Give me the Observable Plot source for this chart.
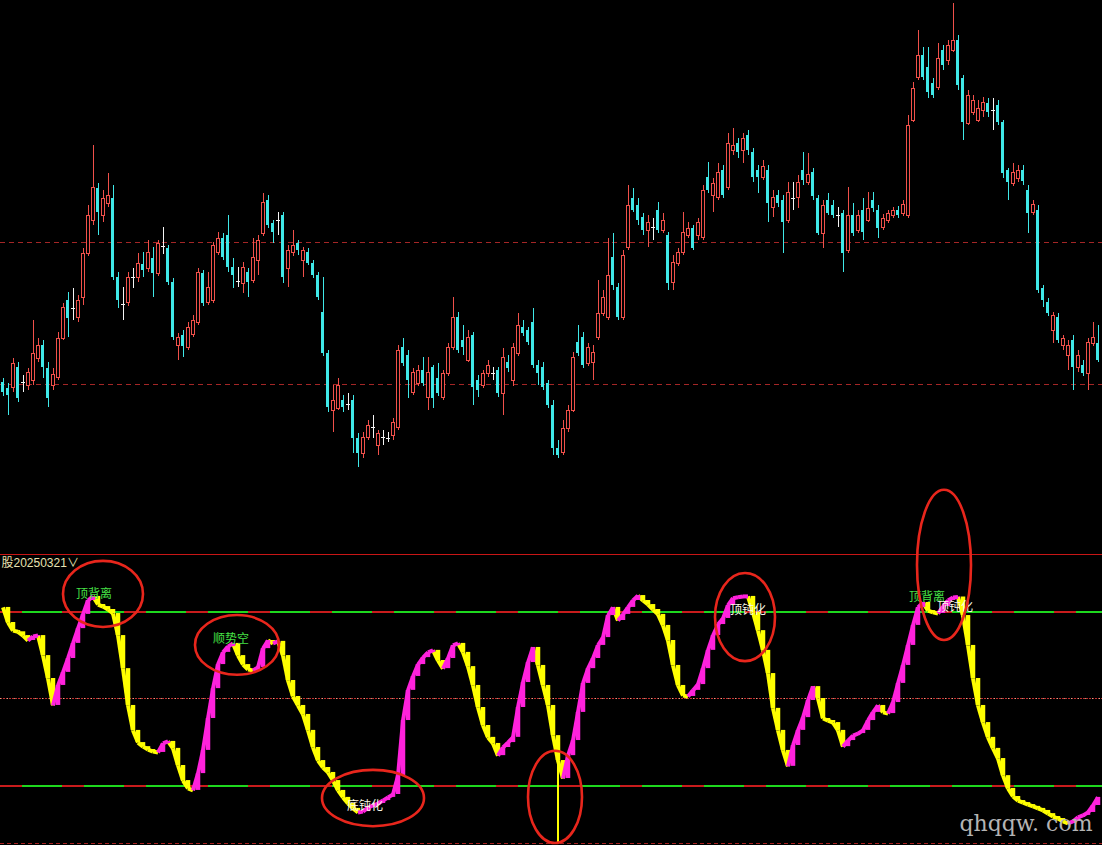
<!DOCTYPE html>
<html><head><meta charset="utf-8">
<script src="https://cdn.jsdelivr.net/npm/d3@7"></script>
<script src="https://cdn.jsdelivr.net/npm/@observablehq/plot@0.6"></script>
<style>
html,body{margin:0;padding:0;background:#000;}
#chart{width:1102px;height:845px;background:#000;overflow:hidden;position:relative;}
#sep{height:1px;background:#c81616;}
#chart svg{display:block;}
</style></head><body><div id="chart"></div>
<script>
// ---- price candles (index units, one per bar) ----
const opens = [618,612,613,633,617,615,620,642,655,632, 615,623,662,700,691,683,703,747,780,812,
785,797,802,723,697,698,722,723,736,732, 742,727,753,752,718,655,665,653,666,678,
727,698,700,748,762,765,733,720,717,728, 720,740,767,800,777,779,785,732,748,757,
740,748,737,725,688,647,590,592,600,595, 600,562,547,563,572,555,562,561,565,573,
653,645,608,617,630,603,633,622,603,627, 653,683,660,640,665,620,615,627,628,630,
607,638,620,647,673,670,678,635,633,617, 595,552,548,572,590,658,663,637,638,663,
687,683,743,713,683,753,802,795,783,770, 772,790,770,765,718,737,748,765,772,765,
763,823,805,803,830,813,850,857,850,865, 848,830,823,830,793,805,800,780,801,803,
830,818,828,802,767,800,795,786,787,750, 785,770,790,780,800,790,773,780,785,790,
787,785,880,923,945,933,917,913,950,940, 950,960,922,877,888,880,890,897,889,895,
878,830,817,822,830,810,788,790,712,698, 670,683,655,645,660,633,635,627,657,657];
const closes = [608,605,637,602,618,628,647,655,633,602, 626,662,693,682,692,700,747,785,813,788,
802,805,723,700,696,723,723,737,730,748, 727,757,754,718,663,663,654,673,680,728,
697,713,755,762,743,733,725,719,733,718, 743,760,798,775,768,780,723,750,755,750,
750,737,725,703,647,593,600,615,593,596, 562,547,563,575,573,567,563,562,578,650,
637,620,628,630,617,628,602,607,627,653, 683,650,653,663,613,610,627,635,627,607,
643,632,653,675,667,658,635,627,613,595, 552,545,572,590,643,647,635,653,648,687,
703,725,715,683,745,795,790,780,770,778, 773,770,780,717,738,748,768,772,752,778,
810,810,817,828,805,857,855,848,862,850, 823,823,834,797,803,797,778,808,802,818,
820,826,804,767,795,787,785,785,747,785, 767,785,768,792,792,772,782,787,790,785,
796,875,912,945,923,908,905,942,935,955, 960,915,878,905,900,892,898,888,890,878,
827,818,828,830,819,787,796,710,700,687, 685,660,662,655,633,645,627,658,663,640];
const highs = [622,617,642,638,625,632,680,662,660,638, 632,668,697,708,712,705,752,795,855,817,
810,827,815,728,713,728,732,747,748,760, 753,760,773,755,722,667,670,678,685,732,
730,728,758,768,767,785,742,733,738,732, 762,765,807,805,780,788,788,755,770,760,
753,752,740,728,723,650,615,622,605,607, 605,567,568,580,585,570,570,568,582,655,
662,650,632,635,643,643,635,637,630,657, 703,688,675,670,668,625,630,640,633,633,
652,645,657,687,680,673,692,640,638,620, 600,560,580,595,648,675,668,657,655,720,
710,762,767,717,750,815,812,802,787,785, 782,798,787,768,745,752,788,778,775,782,
815,838,822,837,835,867,872,862,867,870, 852,835,840,835,810,810,805,818,818,825,
848,847,832,805,800,807,800,793,790,813, 797,790,802,808,808,795,786,790,793,794,
800,885,918,970,953,953,922,957,955,960, 997,965,925,910,905,900,903,902,902,900,
880,832,837,835,835,815,800,795,715,702, 688,687,665,660,665,650,640,662,678,675];
const lows = [604,585,608,598,608,610,615,638,622,593, 610,620,660,663,680,678,695,744,775,765,
778,793,720,692,680,694,712,718,723,728, 703,724,746,715,660,640,643,650,663,675,
694,695,697,745,740,728,712,713,707,703, 717,725,764,772,757,765,717,713,744,745,
723,735,722,700,644,588,568,590,588,590, 547,533,542,560,562,545,555,558,560,570,
634,602,605,614,614,590,592,604,600,624, 650,647,645,638,595,603,612,623,620,603,
585,628,614,644,664,655,632,615,610,592, 545,542,545,568,588,644,632,634,620,660,
684,680,710,680,680,750,788,775,765,753, 760,767,767,710,710,734,745,762,750,760,
760,807,788,800,802,810,845,842,837,845, 818,807,820,778,783,793,747,777,790,792,
815,815,800,765,752,785,782,773,728,747, 764,767,760,778,788,762,770,777,782,782,
784,782,878,920,920,902,902,910,930,935, 948,910,860,875,885,878,883,883,870,875,
822,800,814,818,815,767,785,707,693,684, 657,657,650,630,610,628,624,610,654,638];
const priceGuides = [758, 616];

// ---- oscillator (0-100) ----
const osc = [81.4,76.2,73.4,73.0,71.7,70.0,71.4,71.7,64.8,56.9,
47.6,54.5,59.0,63.8,69.0,74.1,79.0,83.8,85.2,82.4,
81.7,80.7,79.3,71.7,60.3,47.6,39.0,34.8,33.4,32.4,
31.7,31.4,34.5,35.2,32.8,26.9,21.7,19.0,18.3,24.1,
32.1,43.1,53.4,61.7,65.9,67.9,69.0,64.8,61.7,60.0,
59.7,60.7,67.2,70.0,69.0,69.7,64.8,56.2,50.7,47.6,
44.5,39.0,33.1,28.6,26.2,24.5,21.7,18.3,15.9,13.8,
12.1,10.7,11.0,12.4,13.1,13.8,14.8,15.9,16.9,23.4,
42.4,52.8,57.6,61.7,64.1,65.9,66.6,63.1,60.3,63.8,
68.3,69.0,65.9,61.0,54.5,46.9,40.7,36.6,34.5,30.3,
33.1,34.8,36.6,46.9,55.5,62.4,67.6,61.4,54.5,47.6,
37.2,28.6,22.4,30.3,35.5,45.2,55.2,60.3,63.8,68.3,
71.0,78.6,81.4,76.9,79.0,81.4,83.8,85.5,83.8,82.4,
80.7,79.0,75.2,70.0,61.4,54.5,51.0,50.7,52.8,54.8,
60.3,66.6,71.7,75.5,77.6,82.1,84.6,84.9,85.2,85.2,
79.7,73.4,66.6,58.6,46.6,39.0,32.1,26.6,33.8,39.0,
43.4,49.3,54.1,50.0,43.1,42.4,41.7,39.0,33.4,35.5,
37.2,37.9,39.0,42.4,45.2,47.6,45.2,44.8,48.6,55.2,
61.4,68.3,75.2,81.4,83.1,80.3,79.7,79.3,81.7,83.8,
84.8,85.0,78.6,68.3,56.9,47.6,41.7,36.6,32.8,29.3,
23.4,19.0,16.2,14.8,14.1,13.4,12.8,12.1,11.4,10.3,
9.3,8.6,7.6,6.9,7.6,9.0,9.7,10.7,13.1,15.9];
const oscBands = [80, 20];
const oscMid = [50];
const oscFloor = [0];
const spikes = [111];

// ---- annotations ----
const labelTexts = ["顶背离", "顺势空", "底钝化", "顶钝化", "顶背离", "顶钝化"];
const labelIdx = [18.7, 46.1, 72.9, 149.5, 185.3, 190.9];
const labelVal = [85.9, 70.3, 12.8, 80.3, 84.8, 81.4];
const labelKind = ["green", "green", "white", "white", "green", "white"];
const ringIdx = [20.6, 47.4, 74.6, 111.0, 149.0, 188.8];
const ringVal = [85.9, 68.3, 15.5, 15.9, 77.9, 95.9];
const ringIdxR = [8.0, 8.4, 10.2, 5.4, 6.0, 5.4];
const ringValR = [11.4, 10.3, 9.7, 15.9, 15.2, 25.9];
const header = "股20250321∨";
const watermark = "qhqqw. com";

// ---- build tables ----
const RED = "#f0504a", CYAN = "#3fe8e8", WHITE = "#f4f4f4";
const MAG = "#ff22dc", YEL = "#ffff00";
const candles = opens.map((o, i) => ({i, o, c: closes[i], h: highs[i], l: lows[i]}));
const kindOf = d => Math.abs(d.c - d.o) <= 1 ? "doji" : (d.c > d.o ? "up" : "down");
const ups = candles.filter(d => kindOf(d) === "up");
const downs = candles.filter(d => kindOf(d) === "down");
const dojis = candles.filter(d => kindOf(d) === "doji");

const segs = [];
let state = "down";
for (let i = 1; i < osc.length; i++) {
  const prev = osc[i - 1], v = osc[i];
  if (v > prev) state = "up"; else if (v < prev) state = "down";
  segs.push({i, prev, v, state});
}
const upSegs = segs.filter(d => d.state === "up");
const downSegs = segs.filter(d => d.state === "down");
const labels = labelTexts.map((t, k) => ({t, i: labelIdx[k], v: labelVal[k], kind: labelKind[k]}));

const xOpt = {domain: [0, 220], range: [0, 1100], axis: null};
const crisp = {shapeRendering: "crispEdges"};

const pricePlot = Plot.plot({
  width: 1102, height: 554, margin: 0,
  x: xOpt,
  y: {domain: [446, 1000], range: [554, 0], axis: null},
  style: {background: "#000", overflow: "visible"},
  marks: [
    Plot.ruleY(priceGuides, {y: d => d, stroke: "#a42626", strokeDasharray: "5,4", ...crisp}),
    Plot.ruleX(ups, {x: d => d.i + 0.5, y1: "l", y2: "h", stroke: RED, ...crisp}),
    Plot.ruleX(downs, {x: d => d.i + 0.5, y1: "l", y2: "h", stroke: CYAN, ...crisp}),
    Plot.ruleX(dojis, {x: d => d.i + 0.5, y1: "l", y2: "h", stroke: WHITE, ...crisp}),
    Plot.rect(ups, {x1: d => d.i + 0.2, x2: d => d.i + 0.8, y1: "o", y2: "c", fill: "#000", stroke: RED, strokeWidth: 1, ...crisp}),
    Plot.rect(downs, {x1: d => d.i + 0.2, x2: d => d.i + 0.8, y1: "o", y2: "c", fill: CYAN, ...crisp}),
    Plot.ruleY(dojis, {y: "c", x1: d => d.i + 0.1, x2: d => d.i + 0.9, stroke: WHITE, ...crisp})
  ]
});

function ringMark(index, scales) {
  const ns = "http://www.w3.org/2000/svg";
  const sx = scales && typeof scales.x === "function" ? scales.x : d3.scaleLinear([0, 220], [0, 1100]);
  const sy = scales && typeof scales.y === "function" ? scales.y : d3.scaleLinear([0, 100], [288, -2]);
  const g = document.createElementNS(ns, "g");
  ringIdx.forEach((c, k) => {
    const cx = sx(c), cy = sy(ringVal[k]);
    const rx = Math.abs(sx(c + ringIdxR[k]) - cx);
    const ry = Math.abs(sy(ringVal[k] + ringValR[k]) - cy);
    const e = document.createElementNS(ns, "ellipse");
    e.setAttribute("cx", cx); e.setAttribute("cy", cy);
    e.setAttribute("rx", rx); e.setAttribute("ry", ry);
    e.setAttribute("fill", "none"); e.setAttribute("stroke", "#e8261c");
    e.setAttribute("stroke-width", 2.6);
    g.appendChild(e);
  });
  return g;
}

const oscPlot = Plot.plot({
  width: 1102, height: 290, margin: 0,
  x: xOpt,
  y: {domain: [0, 100], range: [288, -2], axis: null},
  style: {background: "transparent", overflow: "visible"},
  marks: [
    Plot.ruleY(oscBands, {y: d => d, stroke: "#1ed81e", strokeWidth: 2, ...crisp}),
    Plot.ruleY(oscBands, {y: d => d, stroke: "#c81c1c", strokeWidth: 2, strokeDasharray: "22,40", ...crisp}),
    Plot.ruleY(oscMid, {y: d => d, stroke: "#c03030", strokeDasharray: "1.5,1.5", ...crisp}),
    Plot.ruleY(oscMid, {y: d => d, stroke: "#e0e0b0", strokeDasharray: "1,6", strokeOpacity: 0.7, ...crisp}),
    Plot.ruleY(oscFloor, {y: d => d, stroke: "#a82020", strokeDasharray: "4,3", ...crisp}),
    Plot.ruleX(spikes, {x: d => d + 0.5, y1: () => 0, y2: d => osc[d], stroke: YEL, strokeWidth: 2}),
    Plot.link(downSegs, {x1: d => d.i - 0.5, y1: "prev", x2: d => d.i + 0.5, y2: "v", stroke: YEL, strokeWidth: 4}),
    Plot.ruleX(downSegs, {x: d => d.i + 0.5, y1: "prev", y2: "v", stroke: YEL, strokeWidth: 4.5}),
    Plot.link(upSegs, {x1: d => d.i - 0.5, y1: "prev", x2: d => d.i + 0.5, y2: "v", stroke: MAG, strokeWidth: 4}),
    Plot.ruleX(upSegs, {x: d => d.i + 0.5, y1: "prev", y2: "v", stroke: MAG, strokeWidth: 4.5}),
    Plot.text(labels.filter(d => d.kind === "green"), {x: "i", y: "v", text: "t", fill: "#46e046", fontSize: 12, fontFamily: "Noto Sans CJK SC", lineAnchor: "middle"}),
    Plot.text(labels.filter(d => d.kind === "white"), {x: "i", y: "v", text: "t", fill: "#fafae6", fontSize: 12, fontFamily: "Noto Sans CJK SC", lineAnchor: "middle"}),
    ringMark,
    Plot.text([header], {text: d => d, frameAnchor: "top-left", textAnchor: "start", lineAnchor: "middle", dx: 1, dy: 8, fill: "#e8e2b0", fontSize: 12, fontFamily: "Liberation Sans, Noto Sans CJK SC"}),
    Plot.text([watermark], {text: d => d, frameAnchor: "bottom-right", textAnchor: "end", lineAnchor: "middle", dx: -10, dy: -22, fill: "#b4b4b4", fontSize: 22, fontFamily: "DejaVu Serif"})
  ]
});

const chart = document.getElementById("chart");
chart.appendChild(pricePlot);
const sep = document.createElement("div"); sep.id = "sep";
chart.appendChild(sep);
chart.appendChild(oscPlot);
</script></body></html>
